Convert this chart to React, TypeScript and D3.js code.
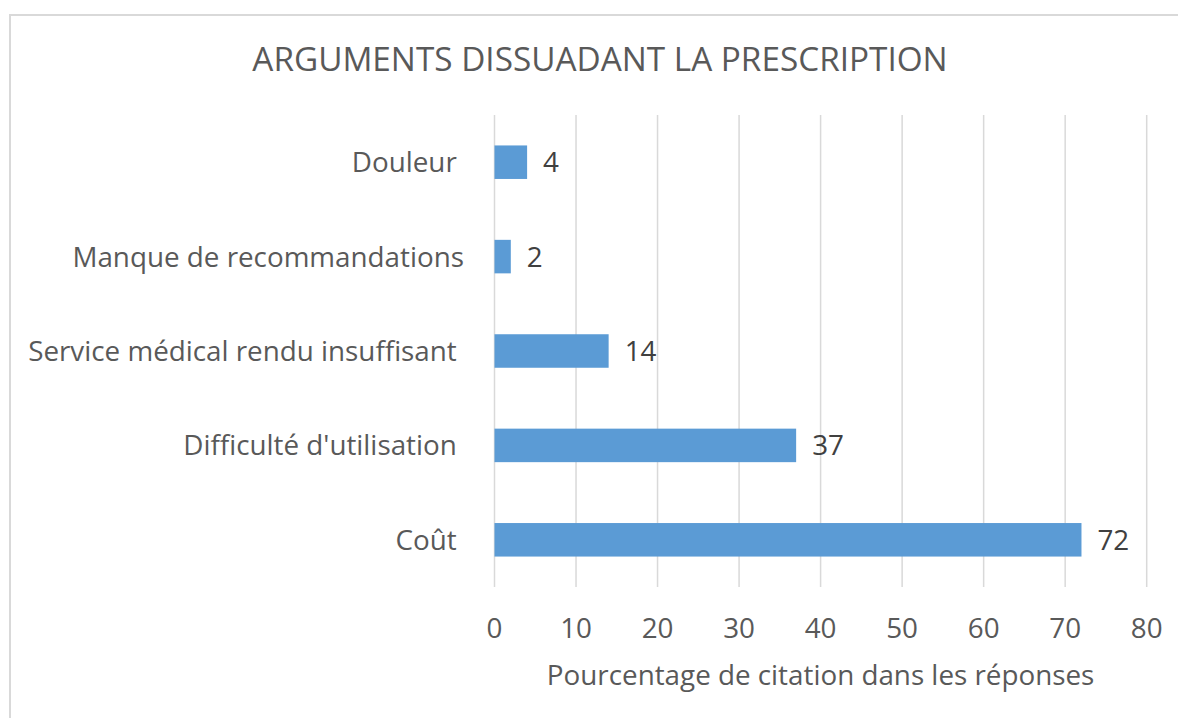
import * as d3 from "d3";

const categories = [
  "Douleur ",
  "Manque de recommandations",
  "Service médical rendu insuffisant ",
  "Difficulté d'utilisation ",
  "Coût ",
];
const values = [4, 2, 14, 37, 72];
const xTicks = [0, 10, 20, 30, 40, 50, 60, 70, 80];

const TITLE = "ARGUMENTS DISSUADANT LA PRESCRIPTION";
const X_TITLE = "Pourcentage de citation dans les réponses";

const WIDTH = 1178;
const HEIGHT = 718;
const PLOT = { left: 494.5, right: 1146.7, top: 115, bottom: 587 };
const FONT = '"Open Sans", "DejaVu Sans", sans-serif';
const LABEL_SIZE = 27.8;

export default function App() {
  const xScale = d3.scaleLinear().domain([0, 80]).range([PLOT.left, PLOT.right]);
  const yScale = d3
    .scaleBand<string>()
    .domain(categories)
    .range([PLOT.top, PLOT.bottom])
    .paddingInner(0.645)
    .paddingOuter(0.3225);

  return (
    <svg
      width={WIDTH}
      height={HEIGHT}
      style={{ position: "absolute", left: 0, top: 0, display: "block", background: "#fff" }}
      fontFamily={FONT}
    >
      {/* chart frame, runs off the right and bottom edge */}
      <rect x={10} y={15} width={1200} height={720} fill="#fff" stroke="#d9d9d9" strokeWidth={2} />

      <text x={600} y={71} textAnchor="middle" fontSize={33.3} fill="#595959">
        {TITLE}
      </text>

      {/* gridlines */}
      {xTicks.map((t) => (
        <line
          key={t}
          x1={xScale(t)}
          x2={xScale(t)}
          y1={PLOT.top}
          y2={PLOT.bottom}
          stroke="#d9d9d9"
          strokeWidth={1.5}
        />
      ))}

      {/* bars */}
      {categories.map((c, i) => (
        <rect
          key={c}
          x={xScale(0)}
          y={yScale(c)}
          width={xScale(values[i]) - xScale(0)}
          height={yScale.bandwidth()}
          fill="#5b9bd5"
        />
      ))}

      {/* value labels */}
      {categories.map((c, i) => (
        <text
          key={c}
          x={xScale(values[i]) + 16}
          y={(yScale(c) ?? 0) + yScale.bandwidth() / 2}
          dy="0.36em"
          fontSize={LABEL_SIZE}
          fill="#404040"
        >
          {values[i]}
        </text>
      ))}

      {/* category labels */}
      {categories.map((c) => (
        <text
          key={c}
          x={464}
          y={(yScale(c) ?? 0) + yScale.bandwidth() / 2}
          dy="0.36em"
          textAnchor="end"
          fontSize={LABEL_SIZE}
          fill="#595959"
          style={{ whiteSpace: "pre" }}
        >
          {c}
        </text>
      ))}

      {/* x tick labels */}
      {xTicks.map((t) => (
        <text key={t} x={xScale(t)} y={638} textAnchor="middle" fontSize={LABEL_SIZE} fill="#595959">
          {t}
        </text>
      ))}

      <text x={(PLOT.left + PLOT.right) / 2} y={685} textAnchor="middle" fontSize={LABEL_SIZE} fill="#595959">
        {X_TITLE}
      </text>
    </svg>
  );
}
